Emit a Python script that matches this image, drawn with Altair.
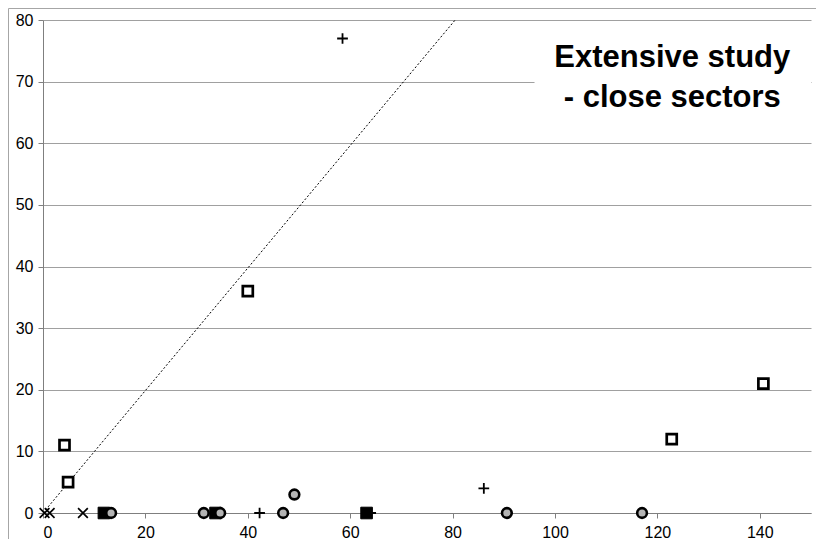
import altair as alt
import pandas as pd

# ---- data ----
open_sq_x = [4.2, 4.9, 40.0, 122.8, 140.7]
open_sq_y = [11, 5, 36, 12, 21]

black_sq_x = [11.9, 33.7, 63.2]
black_sq_y = [0, 0, 0]

circle_x = [13.3, 31.4, 34.6, 46.9, 49.1, 90.6, 117.0]
circle_y = [0, 0, 0, 0, 3, 0, 0]

plus_x = [58.5, 86.1, 42.3, 64.0]
plus_y = [77, 4, 0, 0]

cross_x = [0.3, 1.3, 7.8]
cross_y = [0, 0, 0]

line_x = [0, 80.5]
line_y = [0, 80]

title_lines = ["Extensive study", "- close sectors"]
title_x = [122.9, 122.9]
title_y = [72.4, 65.9]

box_x, box_x2, box_y, box_y2 = [96], [150], [61], [79]

x_ticks = [0, 20, 40, 60, 80, 100, 120, 140]
y_ticks = [0, 10, 20, 30, 40, 50, 60, 70, 80]

FONT = "Liberation Sans"

xs = alt.Scale(domain=[0, 150], nice=False, zero=False)
ys = alt.Scale(domain=[0, 80], nice=False, zero=False)

X = alt.X("x:Q", scale=xs,
          axis=alt.Axis(values=x_ticks, title=None, grid=False, format="d"))
Y = alt.Y("y:Q", scale=ys,
          axis=alt.Axis(values=y_ticks, title=None, grid=True, format="d"))


def df(x, y):
    return pd.DataFrame({"x": x, "y": y})


border = alt.Chart(pd.DataFrame({"a": [0]})).mark_rect(
    fill=None, stroke="#a6a6a6", strokeWidth=1
).encode(x=alt.value(-34.5), x2=alt.value(900), y=alt.value(-11.5), y2=alt.value(700))

diag = alt.Chart(df(line_x, line_y)).mark_line(
    color="black", strokeWidth=1, strokeDash=[2, 2]
).encode(x=X, y=Y)

box = alt.Chart(pd.DataFrame({"x": box_x, "x2": box_x2, "y": box_y, "y2": box_y2})).mark_rect(
    fill="white", stroke=None
).encode(x=X, x2="x2:Q", y=Y, y2="y2:Q")

title = alt.Chart(pd.DataFrame({"x": title_x, "y": title_y, "t": title_lines})).mark_text(
    font=FONT, fontSize=31, fontWeight="bold", align="center", baseline="alphabetic",
    color="black"
).encode(x=X, y=Y, text="t:N")

plus = alt.Chart(df(plus_x, plus_y)).mark_point(
    shape="M-1,0L1,0M0,-1L0,1", filled=False, stroke="black", strokeWidth=1.8,
    size=115, opacity=1
).encode(x=X, y=Y)

cross = alt.Chart(df(cross_x, cross_y)).mark_point(
    shape="M-1,-1L1,1M1,-1L-1,1", filled=False, stroke="black", strokeWidth=1.7,
    size=95, opacity=1
).encode(x=X, y=Y)

black_sq = alt.Chart(df(black_sq_x, black_sq_y)).mark_point(
    shape="square", filled=True, fill="black", stroke="black", strokeWidth=1,
    size=135, opacity=1
).encode(x=X, y=Y)

circles = alt.Chart(df(circle_x, circle_y)).mark_point(
    shape="circle", filled=True, fill="#b4b4b4", stroke="black", strokeWidth=2.6,
    size=95, opacity=1
).encode(x=X, y=Y)

open_sq = alt.Chart(df(open_sq_x, open_sq_y)).mark_point(
    shape="square", filled=True, fill="white", stroke="black", strokeWidth=2.7,
    size=100, opacity=1
).encode(x=X, y=Y)

chart = alt.layer(
    border, diag, box, title, plus, cross, black_sq, circles, open_sq
).properties(
    width=768, height=493,
    autosize=alt.AutoSizeParams(type="none"),
    padding={"left": 35, "top": 12, "right": 5, "bottom": 26},
    background="white",
).configure_view(
    stroke=None
).configure_axis(
    labelFont=FONT, labelFontSize=16, labelColor="black",
    domainColor="#7f7f7f", domainWidth=1,
    tickColor="#7f7f7f", tickSize=5, tickWidth=1,
    gridColor="#a0a0a0", gridWidth=1,
).configure_axisX(
    labelPadding=6,
).configure_axisY(
    labelPadding=5,
)

chart.save("out.html", embed_options={"renderer": "svg", "actions": False})
